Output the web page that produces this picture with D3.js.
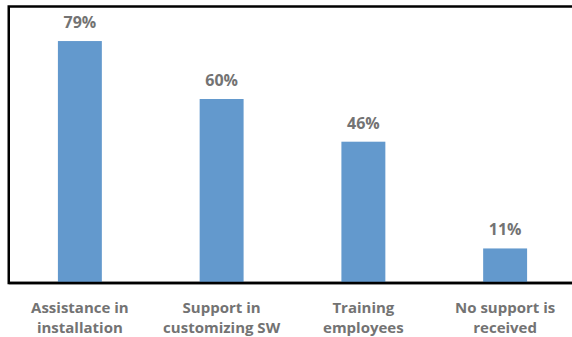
<!DOCTYPE html>
<html>
<head>
<meta charset="utf-8">
<script src="https://cdn.jsdelivr.net/npm/d3@7"></script>
<style>
  body { margin: 0; background: #fff; }
  text { font-family: "Open Sans", Lato, sans-serif; font-weight: bold; fill: #737373; }
</style>
</head>
<body>
<div id="chart"></div>
<script>
// data
const categories = ["Assistance in|installation", "Support in|customizing SW", "Training|employees", "No support is|received"];
const values = [79, 60, 46, 11];

const width = 572,
    height = 337;

const svg = d3.select("#chart")
    .append("svg")
    .attr("width", width)
    .attr("height", height);

// x scale spans the plot box, which runs past the right edge of the image
const x = d3.scaleBand()
    .domain(categories)
    .range([9, 576])
    .paddingInner(0.69)
    .paddingOuter(0.345);

const y = d3.scaleLinear()
    .domain([0, 90])
    .range([282, 7.5]);

// frame around plot area
svg.append("rect")
    .attr("x", 8.75)
    .attr("y", 6.5)
    .attr("width", 600)
    .attr("height", 276.5)
    .attr("fill", "none")
    .attr("stroke", "#000")
    .attr("stroke-width", 2.5);

// bars
svg.selectAll(".bar")
    .data(values)
    .join("rect")
    .attr("class", "bar")
    .attr("x", (d, i) => x(categories[i]))
    .attr("width", x.bandwidth())
    .attr("y", d => y(d))
    .attr("height", d => y(0) - y(d))
    .attr("fill", "#6399cd");

// redraw bottom axis line on top of bars
svg.append("line")
    .attr("x1", 8.75)
    .attr("x2", 572)
    .attr("y1", 283)
    .attr("y2", 283)
    .attr("stroke", "#000")
    .attr("stroke-width", 2.5);

// value labels
svg.selectAll(".val")
    .data(values)
    .join("text")
    .attr("class", "val")
    .attr("x", (d, i) => x(categories[i]) + x.bandwidth() / 2)
    .attr("y", d => y(d) - 13)
    .attr("text-anchor", "middle")
    .style("font-size", "16px")
    .text(d => d + "%");

// category labels, two lines each
const cat = svg.selectAll(".cat")
    .data(categories)
    .join("text")
    .attr("class", "cat")
    .attr("text-anchor", "middle")
    .style("font-size", "15px");

cat.selectAll("tspan")
    .data(d => d.split("|").map(s => ({ key: d, line: s })))
    .join("tspan")
    .attr("x", d => x(d.key) + x.bandwidth() / 2)
    .attr("y", (d, i) => 313 + i * 20)
    .text(d => d.line);
</script>
</body>
</html>
